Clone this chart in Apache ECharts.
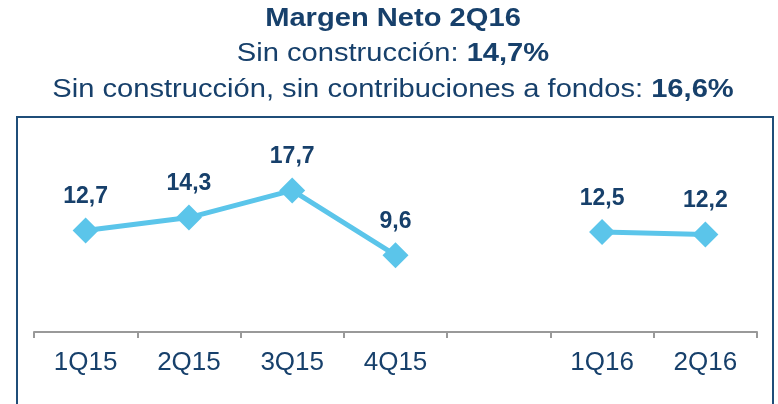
<!DOCTYPE html>
<html>
<head>
<meta charset="utf-8">
<script src="https://cdn.jsdelivr.net/npm/echarts@6/dist/echarts.min.js"></script>
<style>
  html, body { margin: 0; padding: 0; background: #fff; }
  #chart { width: 778px; height: 404px; }
</style>
</head>
<body>
<div id="chart"></div>
<script>
// datos del gráfico
var categories = ["1Q15", "2Q15", "3Q15", "4Q15", "", "1Q16", "2Q16"];
var margenNeto = [12.7, 14.3, 17.7, 9.6, null, 12.5, 12.2];
var titleMain = "Margen Neto 2Q16";
var sinConstruccion = "14,7%";
var sinContribuciones = "16,6%";

var navy = "#17406B";
var lineBlue = "#5BC5EA";
var font = "Liberation Sans";

var chart = echarts.init(document.getElementById("chart"));

// texto rico para los subtitulos
var richSub = {
  n: { fill: navy, fontSize: 26, fontWeight: "normal", fontFamily: font },
  b: { fill: navy, fontSize: 26, fontWeight: "bold", fontFamily: font }
};

// el texto original viene algo estirado en horizontal
function titleLine(text, y, rich) {
  return {
    type: "text",
    x: 393,
    y: y,
    scaleX: 1.12,
    silent: true,
    style: {
      text: text,
      rich: rich,
      align: "center",
      verticalAlign: "middle",
      fill: navy,
      fontSize: 26,
      fontWeight: rich ? "normal" : "bold",
      fontFamily: font
    }
  };
}

var option = {
  backgroundColor: "#fff",
  textStyle: { fontFamily: font },
  graphic: [
    titleLine(titleMain, 19, null),
    titleLine("{n|Sin construcción: }{b|" + sinConstruccion + "}", 54, richSub),
    titleLine("{n|Sin construcción, sin contribuciones a fondos: }{b|" + sinContribuciones + "}", 90, richSub),
    // marco del gráfico
    {
      type: "rect",
      shape: { x: 17, y: 117, width: 756, height: 300 },
      style: { fill: null, stroke: "#1F4E79", lineWidth: 2 },
      silent: true
    }
  ],
  grid: { left: 34, right: 21, top: 140, bottom: 72 },
  xAxis: {
    type: "category",
    data: categories,
    boundaryGap: true,
    axisLine: { lineStyle: { color: "#999", width: 2 } },
    axisTick: { show: true, length: 6, inside: false, lineStyle: { color: "#999", width: 2 } },
    axisLabel: { color: navy, fontSize: 26, margin: 18, fontFamily: font },
    splitLine: { show: false }
  },
  yAxis: {
    type: "value",
    min: 0,
    max: 24,
    show: false
  },
  series: [
    {
      type: "line",
      data: margenNeto,
      connectNulls: false,
      symbol: "diamond",
      symbolSize: 26,
      lineStyle: { color: lineBlue, width: 5 },
      itemStyle: { color: lineBlue },
      label: {
        show: true,
        position: "top",
        distance: 9,
        color: navy,
        fontSize: 23,
        fontWeight: "bold",
        fontFamily: font,
        formatter: function (p) {
          return p.value == null ? "" : p.value.toFixed(1).replace(".", ",");
        }
      },
      animation: false
    }
  ]
};

chart.setOption(option);
</script>
</body>
</html>
